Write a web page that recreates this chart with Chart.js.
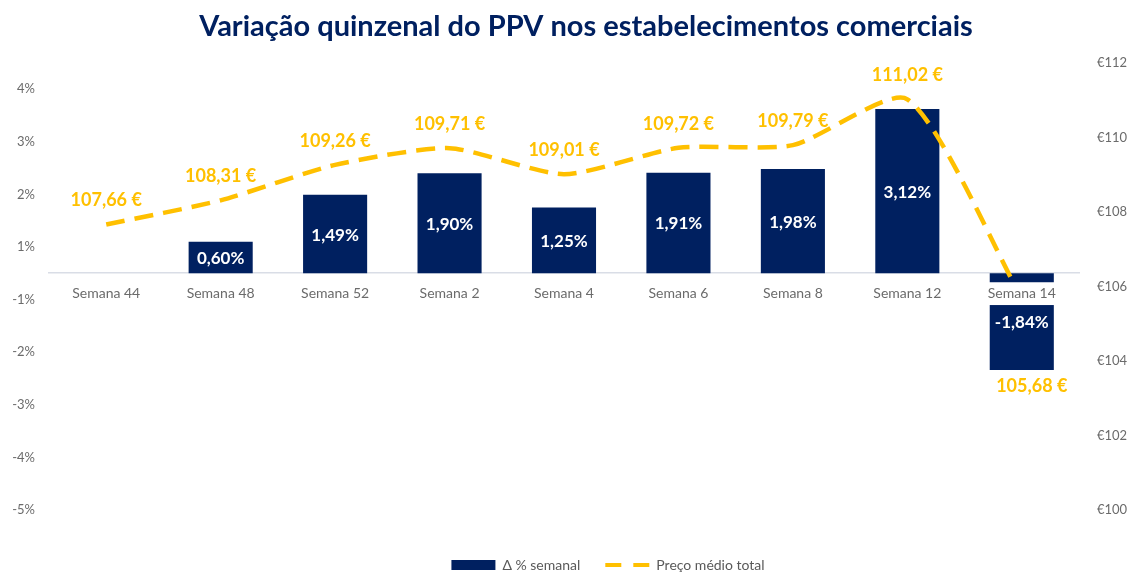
<!DOCTYPE html>
<html><head><meta charset="utf-8">
<script src="https://cdn.jsdelivr.net/npm/chart.js@4.4.1/dist/chart.umd.min.js"></script>
<style>html,body{margin:0;padding:0;background:#fff}#wrap{width:1134px;height:572px;position:relative}</style>
</head><body><div id="wrap"><canvas id="c"></canvas></div>
<script>
const categories = ['Semana 44','Semana 48','Semana 52','Semana 2','Semana 4','Semana 6','Semana 8','Semana 12','Semana 14'];
const variacaoPct = [null, 0.60, 1.49, 1.90, 1.25, 1.91, 1.98, 3.12, -1.84];
const precoMedio = [107.66, 108.31, 109.26, 109.71, 109.01, 109.72, 109.79, 111.02, 105.68];
const yLeftTickValues = [-4.5, -3.5, -2.5, -1.5, -0.5, 0.5, 1.5, 2.5, 3.5];
const yLeftTickLabels = ['-5%', '-4%', '-3%', '-2%', '-1%', '1%', '2%', '3%', '4%'];
const yRightTickValues = [100, 102, 104, 106, 108, 110, 112];
const yRightTickLabels = ['€100', '€102', '€104', '€106', '€108', '€110', '€112'];
const titleText = 'Variação quinzenal do PPV nos estabelecimentos comerciais';
const barLabel = 'Δ % semanal';
const lineLabel = 'Preço médio total';

const NAVY = '#002060', GOLD = '#FFC000', GRAY = '#6b6b6b';
const FONT = 'Lato';
const fmtPct = v => v.toFixed(2).replace('.', ',') + '%';
const fmtEur = v => v.toFixed(2).replace('.', ',') + ' €';

const valueLabels = {
  id: 'valueLabels',
  afterLayout(chart) {
    const lg = chart.legend;
    if (lg) { lg.left += 41; lg.right += 41; }
    const tb = chart.titleBlock;
    if (tb) { tb.left += 19; tb.right += 19; }
  },
  afterDatasetsDraw(chart) {
    const ctx = chart.ctx;
    const barMeta = chart.getDatasetMeta(0);
    const lineMeta = chart.getDatasetMeta(1);
    ctx.save();
    ctx.textAlign = 'center';
    ctx.textBaseline = 'middle';
    ctx.font = 'bold 17px ' + FONT;
    ctx.fillStyle = '#ffffff';
    barMeta.data.forEach((el, i) => {
      const v = variacaoPct[i];
      if (v === null || v === undefined) return;
      ctx.fillText(fmtPct(v), el.x, (el.y + el.base) / 2 + 1);
    });
    ctx.font = 'bold 18px ' + FONT;
    ctx.fillStyle = GOLD;
    lineMeta.data.forEach((pt, i) => {
      let x = pt.x, y = pt.y - 24;
      const b = barMeta.data[i];
      if (variacaoPct[i] !== null && variacaoPct[i] < 0) { y = b.y + 16; x += 10; }
      ctx.fillText(fmtEur(precoMedio[i]), x, y);
    });
    ctx.restore();
  }
};

new Chart(document.getElementById('c'), {
  data: {
    labels: categories,
    datasets: [
      { type: 'bar', label: barLabel, data: variacaoPct, yAxisID: 'y', backgroundColor: NAVY,
        barPercentage: 0.56, categoryPercentage: 1, order: 1 },
      { type: 'line', label: lineLabel, data: precoMedio, yAxisID: 'y1', borderColor: GOLD,
        borderWidth: 4.5, borderDash: [19, 10], pointRadius: 0, tension: 0.22, fill: false, order: 0 }
    ]
  },
  options: {
    responsive: true,
    maintainAspectRatio: false,
    animation: false,
    layout: { padding: { left: 0, right: 0, top: 0, bottom: -10 } },
    scales: {
      x: {
        type: 'category', position: { y: 0 }, offset: true,
        grid: { display: false, drawTicks: false },
        border: { display: true, color: '#D9DDE6', width: 1.5 },
        ticks: { z: 1, color: GRAY, font: { family: FONT, size: 14 }, padding: 12,
          showLabelBackdrop: true, backdropColor: '#ffffff',
          backdropPadding: { top: 3, bottom: 3, left: 2, right: 2 } }
      },
      y: {
        position: 'left', min: -4.5, max: 4,
        afterBuildTicks: s => { s.ticks = yLeftTickValues.map(v => ({ value: v })); },
        afterFit: s => { s.width = 49; },
        grid: { display: false, drawTicks: false },
        border: { display: false },
        ticks: { color: GRAY, font: { family: FONT, size: 13 }, padding: 14,
          callback: v => yLeftTickLabels[yLeftTickValues.indexOf(v)] }
      },
      y1: {
        position: 'right', min: 100, max: 112,
        afterBuildTicks: s => { s.ticks = yRightTickValues.map(v => ({ value: v })); },
        afterFit: s => { s.width = 55; },
        grid: { display: false, drawTicks: false },
        border: { display: false },
        ticks: { color: GRAY, font: { family: FONT, size: 13 }, padding: 18,
          callback: v => yRightTickLabels[yRightTickValues.indexOf(v)] }
      }
    },
    plugins: {
      tooltip: { enabled: false },
      title: { display: true, text: titleText, color: NAVY,
        font: { family: FONT, size: 29, weight: 'bold' }, padding: { top: 9, bottom: 19 } },
      legend: {
        position: 'bottom',
        title: { display: true, text: ' ', font: { size: 10, lineHeight: 1 }, padding: { top: 13, bottom: 0 } },
        labels: {
          font: { family: FONT, size: 14 }, color: '#595959',
          usePointStyle: true, pointStyleWidth: 44, boxHeight: 10, padding: 25,
          generateLabels: () => [
            { text: barLabel, fillStyle: NAVY, strokeStyle: NAVY, lineWidth: 0, pointStyle: 'rect', datasetIndex: 0, fontColor: '#595959' },
            { text: lineLabel, fillStyle: GOLD, strokeStyle: GOLD, lineWidth: 4, lineDash: [16, 12], pointStyle: 'line', datasetIndex: 1, fontColor: '#595959' }
          ]
        }
      }
    }
  },
  plugins: [valueLabels]
});
</script>
</body></html>
